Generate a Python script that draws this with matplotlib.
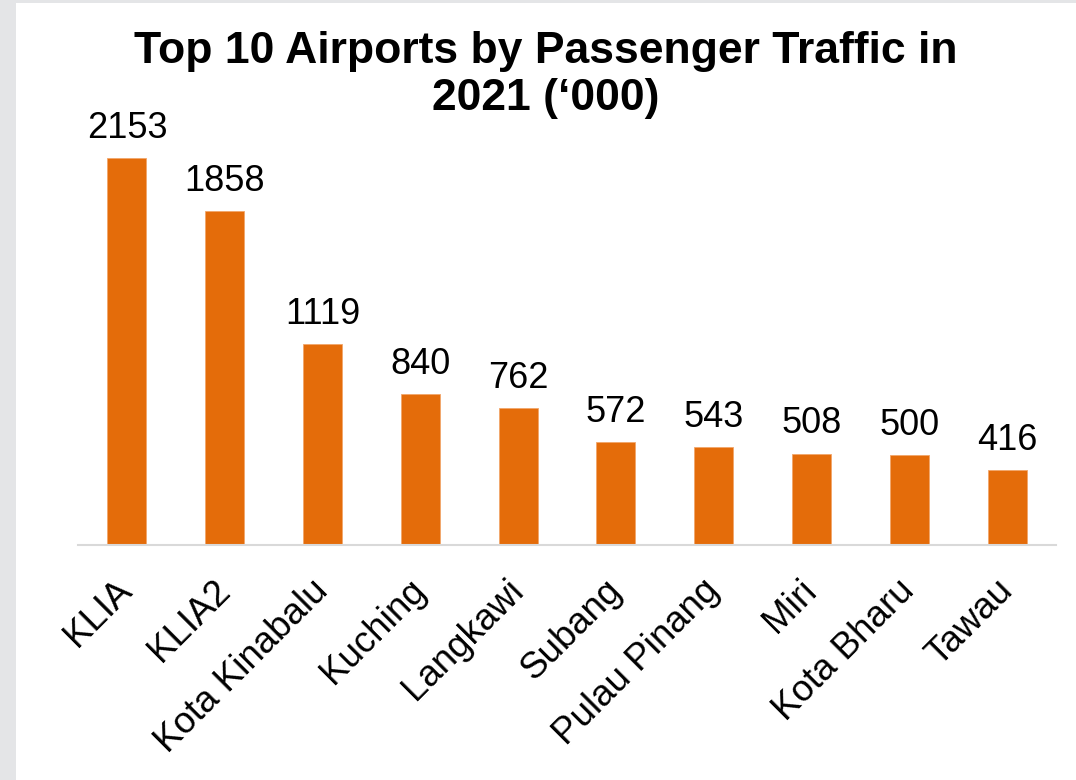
import matplotlib.pyplot as plt
from matplotlib.patches import Rectangle

plt.rcParams['font.family'] = ['Liberation Sans', 'DejaVu Sans']

airports = ['KLIA', 'KLIA2', 'Kota Kinabalu', 'Kuching', 'Langkawi',
            'Subang', 'Pulau Pinang', 'Miri', 'Kota Bharu', 'Tawau']
passengers = [2153, 1858, 1119, 840, 762, 572, 543, 508, 500, 416]

bar_color = '#E46C0A'

fig = plt.figure(figsize=(10.76, 7.8), dpi=100)
fig.patch.set_facecolor('white')

# grey frame strip along the left and top edges
fig.patches.append(Rectangle((0, 0), 16 / 1076, 1, transform=fig.transFigure,
                             facecolor='#E4E5E7', edgecolor='none', zorder=0))
fig.patches.append(Rectangle((0, 1 - 3 / 780), 1, 3 / 780, transform=fig.transFigure,
                             facecolor='#E4E5E7', edgecolor='none', zorder=0))

ax = fig.add_axes([78 / 1076, 235 / 780, 978 / 1076, 431 / 780])
x = range(len(airports))
bars = ax.bar(x, passengers, width=0.4, color=bar_color, edgecolor='#F2A66A', linewidth=0.6)

for xi, v in zip(x, passengers):
    ax.annotate(str(v), (xi, v), xytext=(0, 9), textcoords='offset points',
                ha='center', va='bottom', fontsize=26, color='black')

ax.set_xlim(-0.5, len(airports) - 0.5)
ax.set_ylim(0, 2400)
ax.set_yticks([])
ax.set_xticks(list(x))
ax.set_xticklabels(airports, rotation=45, ha='right', va='center',
                   rotation_mode='anchor', fontsize=26.5)
ax.tick_params(axis='x', length=0, pad=29)

for side in ['top', 'right', 'left']:
    ax.spines[side].set_visible(False)
ax.spines['bottom'].set_color('#D9D9D9')
ax.spines['bottom'].set_linewidth(1.5)

fig.text(546 / 1076, 1 - 31 / 780, 'Top 10 Airports by Passenger Traffic in\n2021 (\u2018000)',
         ha='center', va='top', fontsize=32, fontweight='bold', linespacing=1.2)

fig.savefig('out.png', dpi=100, facecolor='white')
